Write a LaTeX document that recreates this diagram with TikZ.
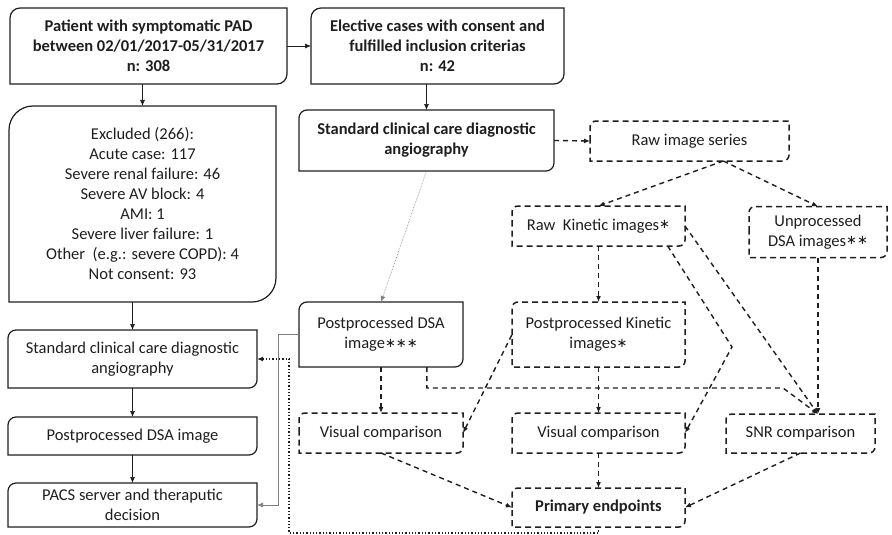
\documentclass[tikz,border=0pt]{standalone}
\usepackage{fontspec}
\setmainfont{Carlito}
\newfontfamily\starfont{DejaVu Sans}
\usetikzlibrary{arrows.meta,calc}
\definecolor{ink}{HTML}{1E1E1E}
\definecolor{greyline}{HTML}{808080}
\newcommand\starmark{{\starfont\fontsize{13}{13}\selectfont\raisebox{0.25ex}{∗}}}

\begin{document}
\begin{tikzpicture}[x=1pt,y=-1pt,font=\fontsize{16.5}{20}\selectfont,
    box/.style={align=center,inner sep=1pt,outer sep=0pt,text=ink},
    sz/.style 2 args={minimum width=#1,minimum height=#2},
    hd/.style={font=\fontsize{16.5}{20}\selectfont\bfseries},
    boxline/.style={ink,line width=1.2pt},
    dashline/.style={ink,line width=1.5pt,dash pattern=on 6pt off 4pt},
    tip/.style={-{Latex[length=6pt,width=5pt]}},
    link/.style={tip,ink,line width=0.7pt},
    dlink/.style={tip,ink,line width=1.4pt,dash pattern=on 5pt off 4pt},
    flink/.style={tip,greyline,line width=0.6pt,densely dotted},
    glink/.style={tip,greyline,line width=0.7pt},
    olink/.style={tip,ink,line width=1.3pt,dotted}]
  \useasboundingbox (0,0) rectangle (892,535);

  \node[box,hd,sz={277}{76}] (pat) at (148.5,46) {Patient with symptomatic PAD\\between 02/01/2017-05/31/2017\\n: 308};
  \node[box,hd,sz={253}{76}] (eli) at (437.5,46) {Elective cases with consent and\\fulfilled inclusion criterias\\n: 42};
  \node[box,sz={267}{196}] (exc) at (142.5,204) {Excluded (266):\\Acute case: 117\\Severe renal failure: 46\\Severe AV block: 4\\AMI: 1\\Severe liver failure: 1\\Other~ (e.g.: severe COPD): 4\\Not consent: 93};
  \node[box,hd,sz={255}{61}] (stdm) at (426.5,140.5) {Standard clinical care diagnostic\\angiography};
  \node[box,sz={199}{40}] (raw) at (689.5,141) {Raw image series};
  \node[box,sz={173}{40}] (rkin) at (598.5,226) {Raw~ Kinetic images\starmark};
  \node[box,sz={138}{51}] (unp) at (818,232) {Unprocessed\\DSA images\starmark\starmark};
  \node[box,sz={164}{65}] (pdsa) at (381,334.5) {Postprocessed DSA\\image\starmark\starmark\starmark};
  \node[box,sz={173}{65}] (pkin) at (598.5,334.5) {Postprocessed Kinetic\\images\starmark};
  \node[box,sz={164}{40}] (vis1) at (381,433) {Visual comparison};
  \node[box,sz={173}{40}] (vis2) at (598.5,433) {Visual comparison};
  \node[box,sz={149}{39}] (snr) at (800.5,433.5) {SNR comparison};
  \node[box,hd,sz={173}{39}] (prim) at (598.5,507.5) {Primary endpoints};
  \node[box,sz={249}{58}] (stdl) at (132.5,359) {Standard clinical care diagnostic\\angiography};
  \node[box,sz={249}{38}] (pdsal) at (132.5,436) {Postprocessed DSA image};
  \node[box,sz={249}{44}] (pacs) at (132.5,505) {PACS server and theraputic\\decision};

  \foreach \n/\r in {pat/10,eli/10,exc/24,stdm/8,pdsa/8,stdl/8,pdsal/8,pacs/8}
    \draw[boxline] (\n.west) [rounded corners=\r] |- (\n.north) [sharp corners] -| (\n.east)
      [rounded corners=\r] |- (\n.south) [sharp corners] -| (\n.west) -- cycle;
  \foreach \n in {raw,rkin,unp,pkin,vis1,vis2,snr,prim}
    \draw[dashline] (\n.west) [rounded corners=6] |- (\n.north) [sharp corners] -| (\n.east)
      [rounded corners=6] |- (\n.south) [sharp corners] -| (\n.west) -- cycle;

  \coordinate (rawout) at ($(raw.south west)!0.67!(raw.south east)$);
  \coordinate (rkout) at ($(rkin.south east)!0.1!(rkin.south west)$);
  \coordinate (kbend) at (732,347);
  \coordinate (pdsaout) at ($(pdsa.south east)!0.22!(pdsa.south west)$);
  \coordinate (hline) at (783,388);
  \coordinate (snrin) at (unp.south |- snr.north);

  \draw[link] (pat.east) -- (eli.west);
  \draw[link] (exc.north |- pat.south) -- (exc.north);
  \draw[link] (stdm.north |- eli.south) -- (stdm.north);
  \draw[link] (stdl.north |- exc.south) -- (stdl.north);
  \draw[link] (stdl.south) -- (pdsal.north);
  \draw[link] (pdsal.south) -- (pacs.north);

  \draw[dlink] (stdm.east) -- (raw.west);
  \draw[flink] (stdm.south) -- (pdsa.north);
  \draw[dlink] (rawout) -- (rkin.north);
  \draw[dlink] (rawout) -- (unp.north);
  \draw[dlink] (rkin.south) -- (pkin.north);
  \draw[dlink] (unp.south) -- (snrin);
  \draw[dlink] (rkin.east) -- (snrin);
  \draw[dlink] (rkout) -- (kbend) -- (vis2.east);
  \draw[dlink] (pdsaout) |- (hline) -- (snrin);
  \draw[dlink] (pdsa.south) -- (vis1.north);
  \draw[dlink,{Latex[length=6pt,width=5pt]}-] (vis1.east) -- (pkin.west);
  \draw[dlink] (pkin.south) -- (vis2.north);
  \draw[dlink] (vis1.south) -- (prim.west);
  \draw[dlink] (vis2.south) -- (prim.north);
  \draw[dlink] (snr.south) -- (prim.east);

  \draw[glink] (pdsa.west) -| ($(pacs.east)+(21,0)$) -- (pacs.east);
  \draw[olink] (prim.south) -- ++(0,6) -| ($(stdl.east)+(32,0)$) -- (stdl.east);
\end{tikzpicture}
\end{document}
